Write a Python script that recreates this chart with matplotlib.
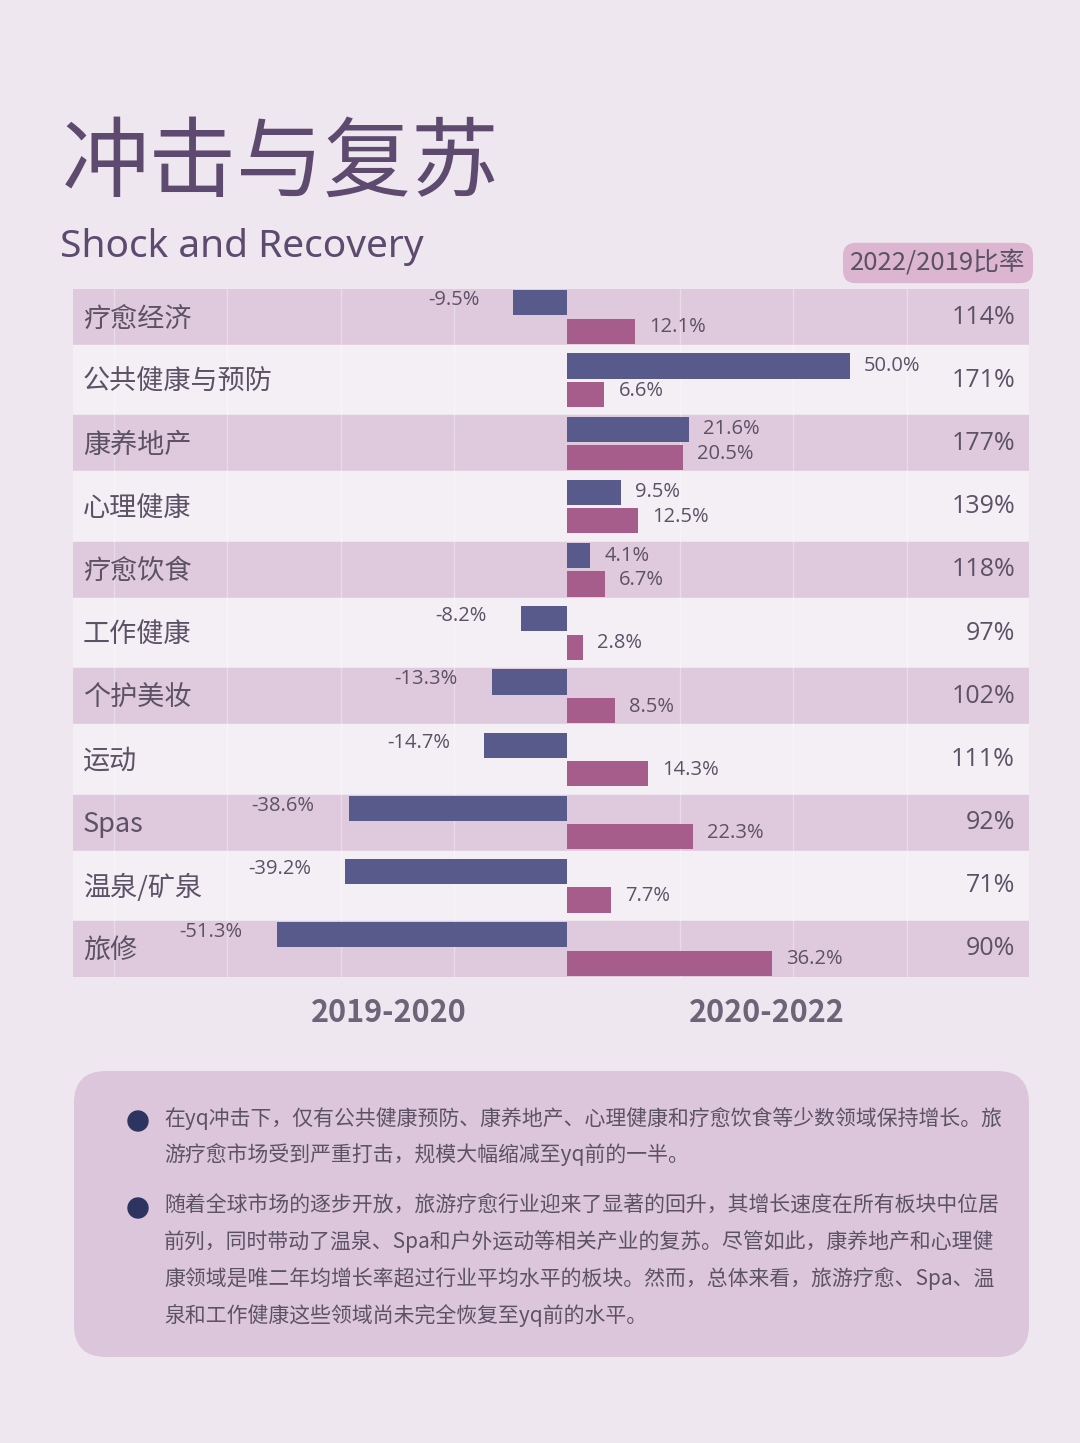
import matplotlib.pyplot as plt
from matplotlib.patches import FancyBboxPatch, Circle

plt.rcParams['font.family'] = ['Noto Sans CJK SC', 'DejaVu Sans']

# datos
categorias = ['疗愈经济', '公共健康与预防', '康养地产', '心理健康', '疗愈饮食', '工作健康',
              '个护美妆', '运动', 'Spas', '温泉/矿泉', '旅修']
v_2019_2020 = [-9.5, 50.0, 21.6, 9.5, 4.1, -8.2, -13.3, -14.7, -38.6, -39.2, -51.3]
v_2020_2022 = [12.1, 6.6, 20.5, 12.5, 6.7, 2.8, 8.5, 14.3, 22.3, 7.7, 36.2]
ratio_2022_2019 = ['114%', '171%', '177%', '139%', '118%', '97%', '102%', '111%', '92%', '71%', '90%']

texto = [
    ['在yq冲击下，仅有公共健康预防、康养地产、心理健康和疗愈饮食等少数领域保持增长。旅',
     '游疗愈市场受到严重打击，规模大幅缩减至yq前的一半。'],
    ['随着全球市场的逐步开放，旅游疗愈行业迎来了显著的回升，其增长速度在所有板块中位居',
     '前列，同时带动了温泉、Spa和户外运动等相关产业的复苏。尽管如此，康养地产和心理健',
     '康领域是唯二年均增长率超过行业平均水平的板块。然而，总体来看，旅游疗愈、Spa、温',
     '泉和工作健康这些领域尚未完全恢复至yq前的水平。'],
]

fondo = '#eee7ef'
banda = '#dfc9dd'
banda_clara = '#f4eff5'
azul = '#585a8b'
rosa = '#a65d8b'
gris = '#5c5266'
titulo_col = '#5e4a6f'
num_font = ['Open Sans', 'DejaVu Sans']

W, H = 1080, 1443
fig = plt.figure(figsize=(W / 100, H / 100), dpi=100)
fig.patch.set_facecolor(fondo)

# eje de fondo en pixeles para decoracion y textos
bg = fig.add_axes([0, 0, 1, 1], zorder=0)
bg.set_xlim(0, W)
bg.set_ylim(H, 0)
bg.axis('off')

bg.text(62, 165, '冲击与复苏', fontsize=63, color=titulo_col, va='center', ha='left')
bg.text(60, 247, 'Shock and Recovery', fontsize=28, color=titulo_col, va='center', ha='left',
        family=['Noto Sans', 'DejaVu Sans'])

bg.text(938, 263, '2022/2019比率', fontsize=18.5, color=gris, ha='center', va='center',
        bbox=dict(boxstyle='round,pad=0.28,rounding_size=0.5', fc='#dcb5d0', ec='none'))

for x, lab in [(389, '2019-2020'), (767, '2020-2022')]:
    bg.text(x, 1013, lab, fontsize=22, color='#6c6478', ha='center', va='center',
            weight='bold')

caja = FancyBboxPatch((74, 1071), 955, 286, boxstyle='round,pad=0,rounding_size=32',
                      fc='#dcc6db', ec='none')
bg.add_patch(caja)
y = 1118
for parrafo in texto:
    bg.add_patch(Circle((138, y + 3), 10, color='#2e3460'))
    for linea in parrafo:
        bg.text(164, y, linea, fontsize=15, color=gris, ha='left', va='center')
        y += 37
    y += 13

# grafico de barras
px = 5.66  # pixeles por punto porcentual
ax = fig.add_axes([73 / W, 1 - 977 / H, 956 / W, 688 / H], zorder=1)
ax.set_facecolor('none')
ax.set_xlim((73 - 567) / px, (1029 - 567) / px)
ax.set_ylim(10.444, -0.444)
ax.axis('off')

for i in range(len(categorias)):
    if i % 2 == 0:
        ax.axhspan(i - 0.444, i + 0.444, color=banda, zorder=0)
    else:
        ax.axhspan(i - 0.556, i + 0.556, color=banda_clara, zorder=0)

for g in [-80, -60, -40, -20, 20, 40, 60]:
    ax.axvline(g, color='white', lw=1, alpha=0.35, zorder=1)

yy = list(range(len(categorias)))
off = 0.225
ax.barh([k - off for k in yy], v_2019_2020, height=0.4, color=azul, zorder=2)
ax.barh([k + off for k in yy], v_2020_2022, height=0.4, color=rosa, zorder=2)

for i, cat in enumerate(categorias):
    ax.text((83 - 567) / px, i + 0.03, cat, fontsize=19.5, color=gris, ha='left', va='center')
    ax.text((1015 - 567) / px, i, ratio_2022_2019[i], fontsize=18, color=gris,
            ha='right', va='center', family=num_font)
    a = v_2019_2020[i]
    if a < 0:
        ax.text(a - 6, i - off - 0.04, f'{a:.1f}%', fontsize=14.5, color=gris,
                ha='right', va='center', family=num_font)
    else:
        ax.text(a + 2.5, i - off, f'{a:.1f}%', fontsize=14.5, color=gris,
                ha='left', va='center', family=num_font)
    b = v_2020_2022[i]
    ax.text(b + 2.5, i + off - 0.06, f'{b:.1f}%', fontsize=14.5, color=gris,
            ha='left', va='center', family=num_font)

fig.savefig('out.png', dpi=100, facecolor=fondo)
